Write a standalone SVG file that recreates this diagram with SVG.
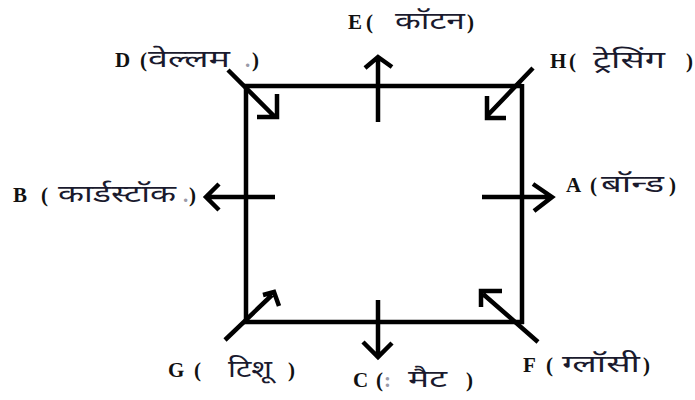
<svg xmlns="http://www.w3.org/2000/svg" width="695" height="400" viewBox="0 0 695 400">
<style>
.ln{fill:none;stroke:#000;stroke-width:4.5;stroke-linecap:butt;stroke-linejoin:miter}
.lb{font-family:"Liberation Serif",serif;font-weight:bold;font-size:21px;fill:#111}
.fd{font-family:"Liberation Serif",serif;font-weight:bold;font-size:21px;fill:#9a9aa8}
.dv{font-family:"Noto Sans Devanagari","Lohit Devanagari","Noto Sans",sans-serif;font-weight:normal;font-size:24px;fill:#1a1a2e}
</style>
<rect width="695" height="400" fill="#fff"/>
<g id="frame">
<path class="ln" d="M244,86 L522,86 M246,84 L246,324 M244,322 L524,322 M522,84 L522,324"/>
</g>
<g id="connectors">
<path class="ln" d="M378,122 L378,58 M365,68 L378,57 L392,67"/>
<path class="ln" d="M275,197 L206,197 M219,184 L206,197 L219,210"/>
<path class="ln" d="M482,197 L552,197 M533,184 L552,197 L534,211"/>
<path class="ln" d="M378,300 L378,357 M363,342 L378,357 L392,343"/>
<path class="ln" d="M228,70 L274,116 M277,94 L277,117 L257,117"/>
<path class="ln" d="M533,68 L487,116 M487,96 L487,118 L506,118"/>
<path class="ln" d="M225,340 L272,295 M263,295 L274,292 L279,306"/>
<path class="ln" d="M538,342 L483,294 M502,291 L481,291 L481,307"/>
</g>
<g id="D">
<text class="lb" x="115 140" y="67">D(</text>
<text class="dv" x="148" y="67" textLength="82" lengthAdjust="spacingAndGlyphs">वेल्लम</text>
<text class="fd" x="245" y="67">.</text>
<text class="lb" x="252" y="67">)</text>
</g>
<g id="E">
<text class="lb" x="348 366" y="29">E(</text>
<text class="dv" x="395" y="29" textLength="70" lengthAdjust="spacingAndGlyphs">कॉटन</text>
<text class="lb" x="467" y="29">)</text>
</g>
<g id="H">
<text class="lb" x="550 569" y="68">H(</text>
<text class="dv" x="593" y="68" textLength="72" lengthAdjust="spacingAndGlyphs">ट्रेसिंग</text>
<text class="lb" x="686" y="68">)</text>
</g>
<g id="B">
<text class="lb" x="13 41" y="202">B(</text>
<text class="dv" x="58" y="202" textLength="118" lengthAdjust="spacingAndGlyphs">कार्डस्टॉक</text>
<text class="fd" x="183" y="202">.</text>
<text class="lb" x="189" y="202">)</text>
</g>
<g id="A">
<text class="lb" x="566 590" y="192">A(</text>
<text class="dv" x="601" y="192" textLength="63" lengthAdjust="spacingAndGlyphs">बॉन्ड</text>
<text class="lb" x="669" y="192">)</text>
</g>
<g id="G">
<text class="lb" x="168 194" y="377">G(</text>
<text class="dv" x="228" y="377" textLength="44" lengthAdjust="spacingAndGlyphs">टिशू</text>
<text class="lb" x="288" y="377">)</text>
</g>
<g id="C">
<text class="lb" x="353 376" y="387">C(</text>
<text class="fd" x="384" y="387">:</text>
<text class="dv" x="408" y="387" textLength="39" lengthAdjust="spacingAndGlyphs">मैट</text>
<text class="lb" x="466" y="387">)</text>
</g>
<g id="F">
<text class="lb" x="523 546" y="372">F(</text>
<text class="dv" x="562" y="372" textLength="78" lengthAdjust="spacingAndGlyphs">ग्लॉसी</text>
<text class="lb" x="643" y="372">)</text>
</g>
</svg>
